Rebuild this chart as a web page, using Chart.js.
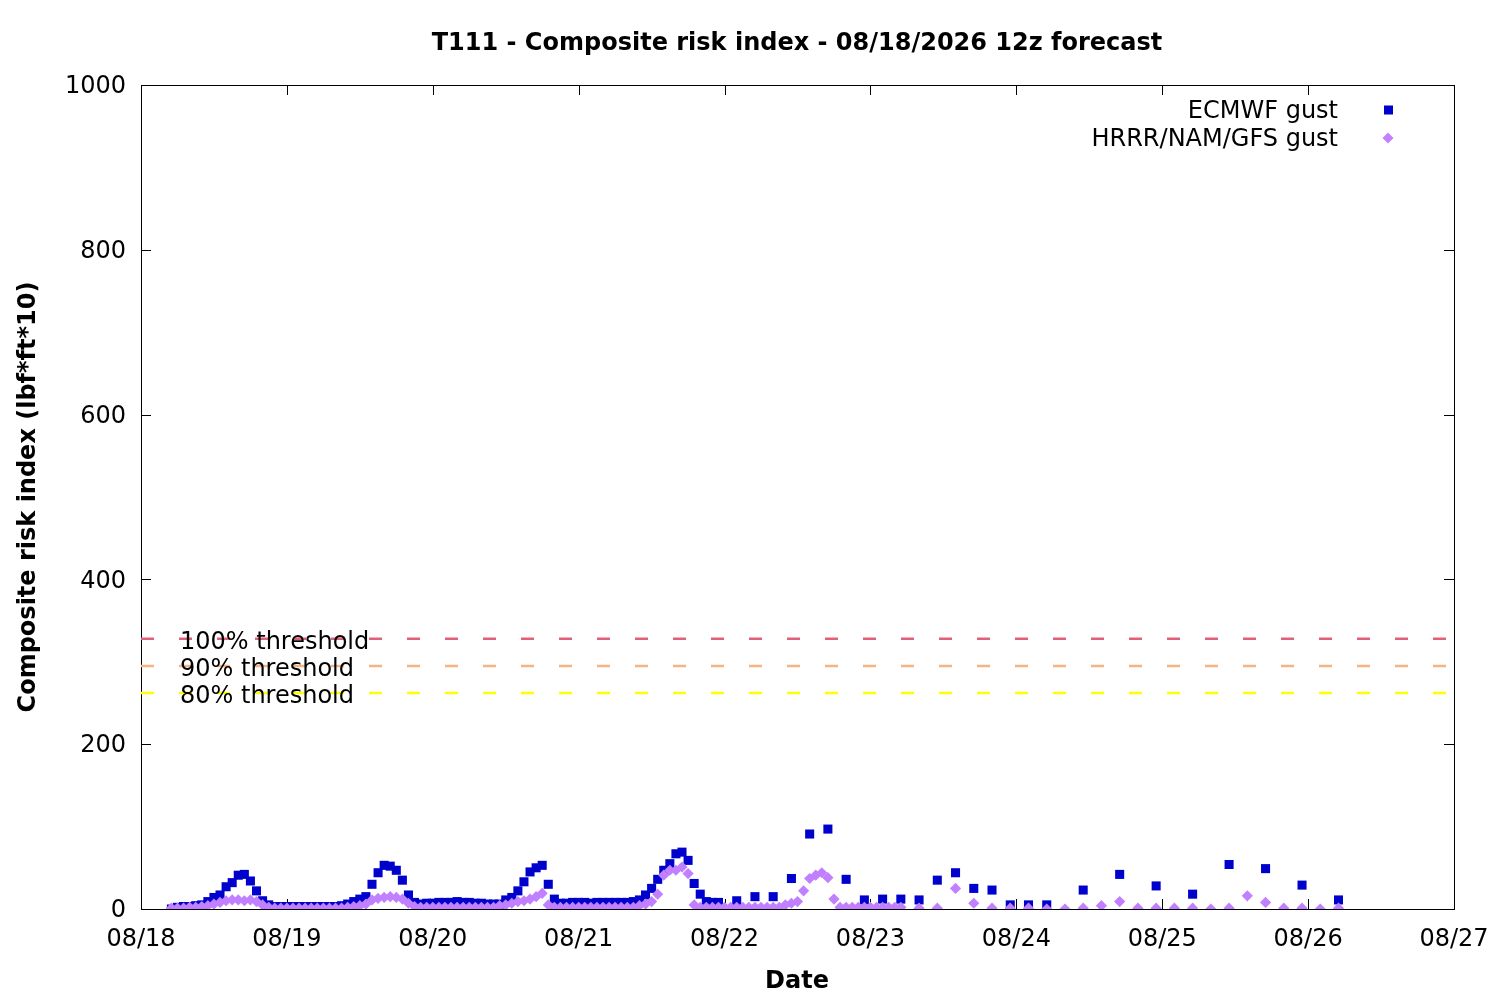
<!DOCTYPE html>
<html>
<head>
<meta charset="utf-8">
<script src="https://cdn.jsdelivr.net/npm/chart.js@4.4.1/dist/chart.umd.min.js"></script>
<style>
html,body{margin:0;padding:0;background:#fff;}
canvas{display:block;}
</style>
</head>
<body>
<canvas id="c" width="1500" height="1000"></canvas>
<script>
// ---- Data ----
const tickLabels = ['08/18','08/19','08/20','08/21','08/22','08/23','08/24','08/25','08/26','08/27'];
const startHour = 5; // first valid time: 08/18 05h (hours since 08/18 00h)

// ECMWF gust: hourly (fh 0-90), 3-hourly (fh 93-144), 6-hourly (fh 150-192)
const ecmwfHourly = [
  0,2,3,3,4,5,9,14,17,27,32,41,42,34,22,10,5,3,
  3,3,3,3,3,3,3,3,3,3,4,
  6,9,12,15,30,44,53,52,47,35,17,8,
  6,7,7,8,8,8,9,8,8,7,7,6,6,6,
  11,14,22,33,45,50,53,30,12,7,7,8,8,8,7,8,8,8,8,8,8,9,11,17,25,36,47,55,67,69,59,31,18,9,8,8
];
const ecmwf3h = [10,15,15,37,91,97,36,11,12,12,11,35,44,25,23,5,5,5];
const ecmwf6h = [23,42,28,18,54,49,29,11];

// HRRR/NAM/GFS gust: hourly (fh 0-120), 3-hourly (fh 123-192)
const hngHourly = [
  1,1,1,2,2,3,4,6,8,10,11,11,10,11,9,5,2,
  1,1,1,1,1,1,1,1,1,1,1,1,
  2,3,4,6,11,13,14,15,14,12,7,3,
  2,2,2,2,2,2,2,2,2,2,2,2,2,
  4,5,7,9,10,12,15,19,5,
  2,2,2,2,2,2,2,2,2,2,2,2,2,2,
  4,6,9,18,41,47,47,51,43,5,
  2,2,2,2,2,2,2,2,2,2,2,2,2,2,
  5,7,9,22,37,41,44,38,12,
  2,2,2,2,2,2,2,2,2,2,2
];
const hng3h = [1,1,25,7,1,1,1,0,0,1,4,9,1,1,1,1,0,1,16,8,1,1,0,1];

const thresholdNames = ['100% threshold','90% threshold','80% threshold'];
const thresholdValues = [328, 295, 262];
const thresholdColors = ['#e0607a','#f5b383','#ffff00'];

const seriesNames = ['ECMWF gust','HRRR/NAM/GFS gust'];
const seriesColors = ['#0000cc','#c080ff'];

// ---- Build point lists (x = hours since 08/18 00h) ----
function segPoints(values, firstFh, step){
  return values.map((v,i)=>({x: startHour + firstFh + i*step, y: v}));
}
const ecmwfData = [].concat(segPoints(ecmwfHourly,0,1), segPoints(ecmwf3h,93,3), segPoints(ecmwf6h,150,6));
const hngData = [].concat(segPoints(hngHourly,0,1), segPoints(hng3h,123,3));

const xMin = 0, xMax = (tickLabels.length-1)*24;

const FONT = 'DejaVu Sans';
const FS = 24;

const thresholdSets = thresholdValues.map((v,i)=>({
  type:'line',
  label: thresholdNames[i],
  data:[{x:xMin,y:v},{x:xMax,y:v}],
  borderColor: thresholdColors[i],
  borderWidth: 2.5,
  borderDash: [13,25],
  pointRadius: 0,
  fill:false
}));

const framePlugin = {
  id:'frame',
  beforeDatasetsDraw(chart){
    const {ctx, chartArea:a, scales} = chart;
    ctx.save();
    ctx.strokeStyle = '#000';
    ctx.lineWidth = 1;
    ctx.beginPath();
    for(let i=0;i<tickLabels.length;i++){
      const px = Math.round(scales.x.getPixelForValue(i*24))+0.5;
      ctx.moveTo(px, a.bottom); ctx.lineTo(px, a.bottom-10);
      ctx.moveTo(px, a.top); ctx.lineTo(px, a.top+10);
    }
    for(let v=0; v<=1000; v+=200){
      const py = Math.round(scales.y.getPixelForValue(v))+0.5;
      ctx.moveTo(a.left, py); ctx.lineTo(a.left+10, py);
      ctx.moveTo(a.right, py); ctx.lineTo(a.right-10, py);
    }
    ctx.stroke();
    ctx.strokeRect(Math.round(a.left)+0.5, Math.round(a.top)+0.5, Math.round(a.right-a.left), Math.round(a.bottom-a.top));
    ctx.restore();
  },
  afterDatasetsDraw(chart){
    const {ctx, chartArea:a, scales} = chart;
    ctx.save();
    ctx.fillStyle = '#000';
    ctx.font = FS+'px "'+FONT+'"';
    ctx.textAlign = 'left';
    ctx.textBaseline = 'middle';
    thresholdValues.forEach((v,i)=>{
      ctx.fillText(thresholdNames[i], 180, scales.y.getPixelForValue(v)+4);
    });
    // legend
    ctx.textAlign = 'right';
    const ly = [112, 140];
    seriesNames.forEach((n,i)=>{
      ctx.fillStyle = '#000';
      ctx.fillText(n, 1338, ly[i]);
      ctx.fillStyle = seriesColors[i];
      const my = ly[i]-2;
      if(i===0){
        ctx.fillRect(1384, my-4.5, 9, 9);
      } else {
        ctx.beginPath();
        ctx.moveTo(1388, my-5.5); ctx.lineTo(1393.5, my); ctx.lineTo(1388, my+5.5); ctx.lineTo(1382.5, my);
        ctx.closePath(); ctx.fill();
      }
    });
    // titles
    ctx.fillStyle = '#000';
    ctx.font = 'bold '+FS+'px "'+FONT+'"';
    ctx.textAlign = 'center';
    ctx.fillText('T111 - Composite risk index - 08/18/2026 12z forecast', 797, 44);
    ctx.fillText('Date', 797, 982);
    ctx.translate(29, 497);
    ctx.rotate(-Math.PI/2);
    ctx.fillText('Composite risk index (lbf*ft*10)', 0, 0);
    ctx.restore();
  }
};

new Chart(document.getElementById('c'), {
  type:'scatter',
  data:{
    datasets:[
      {
        label: seriesNames[1],
        data: hngData,
        backgroundColor: seriesColors[1],
        borderWidth: 0,
        pointStyle:'rectRot',
        pointRadius: 5.6,
        pointHoverRadius: 5.6
      },
      {
        label: seriesNames[0],
        data: ecmwfData,
        backgroundColor: seriesColors[0],
        borderWidth: 0,
        pointStyle:'rect',
        pointRadius: 6.4,
        pointHoverRadius: 6.4
      }
    ].concat(thresholdSets)
  },
  options:{
    responsive:false,
    animation:false,
    devicePixelRatio:1,
    layout:{padding:{top:85,right:46,left:0,bottom:0}},
    plugins:{legend:{display:false}, title:{display:false}, tooltip:{enabled:false}},
    scales:{
      x:{
        type:'linear', min:xMin, max:xMax,
        grid:{display:false, drawTicks:false},
        border:{display:false},
        ticks:{
          stepSize:24, autoSkip:false, maxRotation:0, padding:16,
          color:'#000', font:{family:FONT, size:FS},
          callback:(v)=> (v%24===0 ? tickLabels[v/24] : '')
        },
        afterFit:(s)=>{ s.height = 91; s.paddingLeft = 0; s.paddingRight = 0; }
      },
      y:{
        type:'linear', min:0, max:1000,
        grid:{display:false, drawTicks:false},
        border:{display:false},
        ticks:{stepSize:200, padding:15, labelOffset:2, color:'#000', font:{family:FONT, size:FS},
          callback:(v)=> String(v)},
        afterFit:(s)=>{ s.width = 141; s.paddingTop = 0; s.paddingBottom = 0; }
      }
    }
  },
  plugins:[framePlugin]
});
</script>
</body>
</html>
